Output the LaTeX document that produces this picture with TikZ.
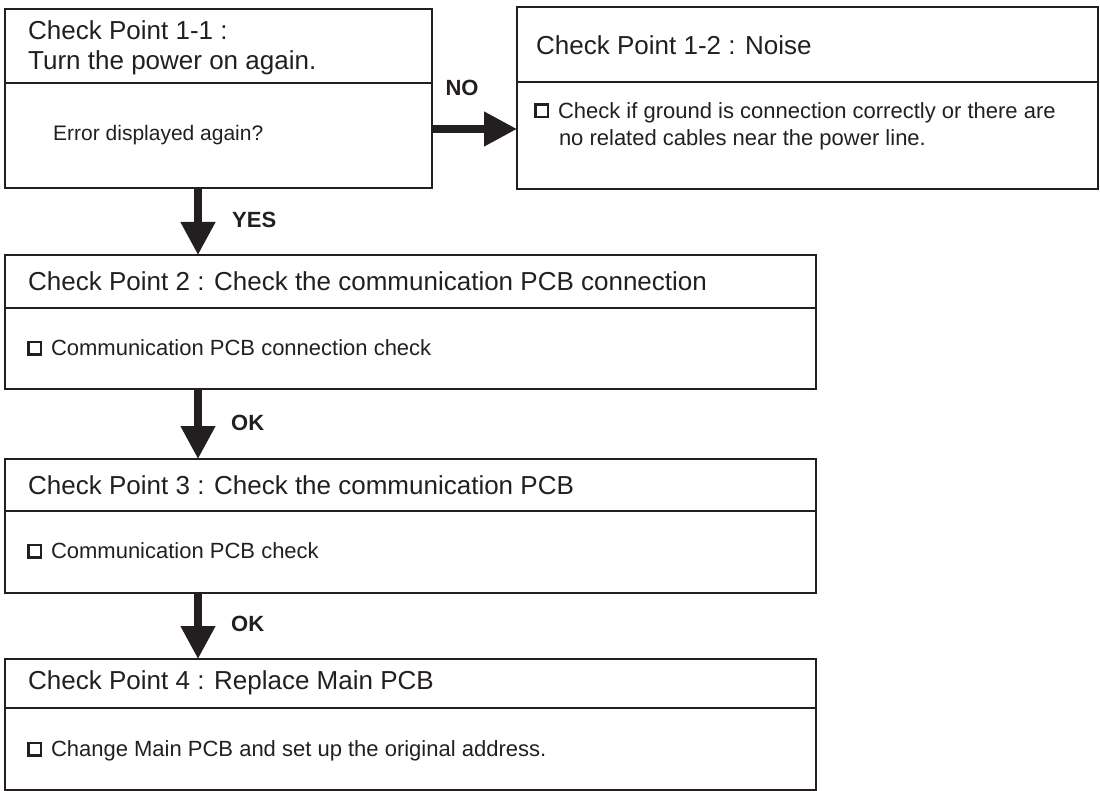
\documentclass[tikz,border=0pt]{standalone}
\usepackage{fontspec}
\setmainfont{Liberation Sans}
\usetikzlibrary{arrows.meta}
\definecolor{ink}{HTML}{231F20}
\newcommand\chk{\raisebox{2.4pt}{\setlength\fboxrule{2.4pt}\setlength\fboxsep{0pt}\fbox{\rule{0pt}{10pt}\hspace{10pt}}}\hspace{9pt}}
\begin{document}
\begin{tikzpicture}[x=1pt,y=-1pt,
  box/.style={draw=ink, line width=2pt, inner sep=0pt, outer sep=0pt, anchor=north west},
  ttl/.style={anchor=west, inner sep=0pt, text=ink, font=\fontsize{26}{30}\selectfont, align=left},
  itm/.style={anchor=west, inner sep=0pt, text=ink, font=\fontsize{22}{27}\selectfont, align=left},
  lbl/.style={inner sep=0pt, text=ink, font=\bfseries\fontsize{22}{26}\selectfont},
  flow/.style={draw=ink, line width=7.5pt, -{Triangle[length=33pt,width=33pt]}},
  divider/.style={draw=ink, line width=2pt}]
\useasboundingbox (0,0) rectangle (1100,791);
% boxes
\node[box, minimum width=427pt, minimum height=179pt] (b11) at (5,9) {};
\node[box, minimum width=581pt, minimum height=182pt] (b12) at (517,7) {};
\node[box, minimum width=811pt, minimum height=134pt] (b2) at (5,255) {};
\node[box, minimum width=811pt, minimum height=134pt] (b3) at (5,459) {};
\node[box, minimum width=811pt, minimum height=131pt] (b4) at (5,659) {};
% dividers
\draw[divider] (5,83) -- (432,83);
\draw[divider] (517,82) -- (1098,82);
\draw[divider] (5,308) -- (816,308);
\draw[divider] (5,511) -- (816,511);
\draw[divider] (5,708) -- (816,708);
% texts
\node[ttl] (t11) at (28,48) {Check Point 1-1 :\\Turn the power on again.};
\node[itm, font=\fontsize{21}{26}\selectfont] (i11) at (53,135) {Error displayed again?};
\node[ttl] (t12) at (536,45) {Check Point 1-2 : Noise};
\node[itm] (i12) at (534,126) {\chk Check if ground is connection correctly or there are\\\hspace{24.8pt}no related cables near the power line.};
\node[ttl] (t2) at (28,281) {Check Point 2 : Check the communication PCB connection};
\node[itm] (i2) at (27,348) {\chk Communication PCB connection check};
\node[ttl] (t3) at (28,485) {Check Point 3 : Check the communication PCB};
\node[itm] (i3) at (27,551) {\chk Communication PCB check};
\node[ttl] (t4) at (28,683) {Check Point 4 : Replace Main PCB};
\node[itm] (i4) at (27,751) {\chk Change Main PCB and set up the original address.};
% connectors
\coordinate (nrow) at (0,129);
\coordinate (ax) at (198,0);
\draw[flow] (b11.east |- nrow) -- (b12.west |- nrow);
\draw[flow] (ax |- b11.south) -- (ax |- b2.north);
\draw[flow] (ax |- b2.south) -- (ax |- b3.north);
\draw[flow] (ax |- b3.south) -- (ax |- b4.north);
% labels
\node[lbl] (no) at (462,88) {NO};
\node[lbl, anchor=west] (yes) at (232,220) {YES};
\node[lbl, anchor=west] (ok1) at (231,423) {OK};
\node[lbl, anchor=west] (ok2) at (231,624) {OK};
\end{tikzpicture}
\end{document}
